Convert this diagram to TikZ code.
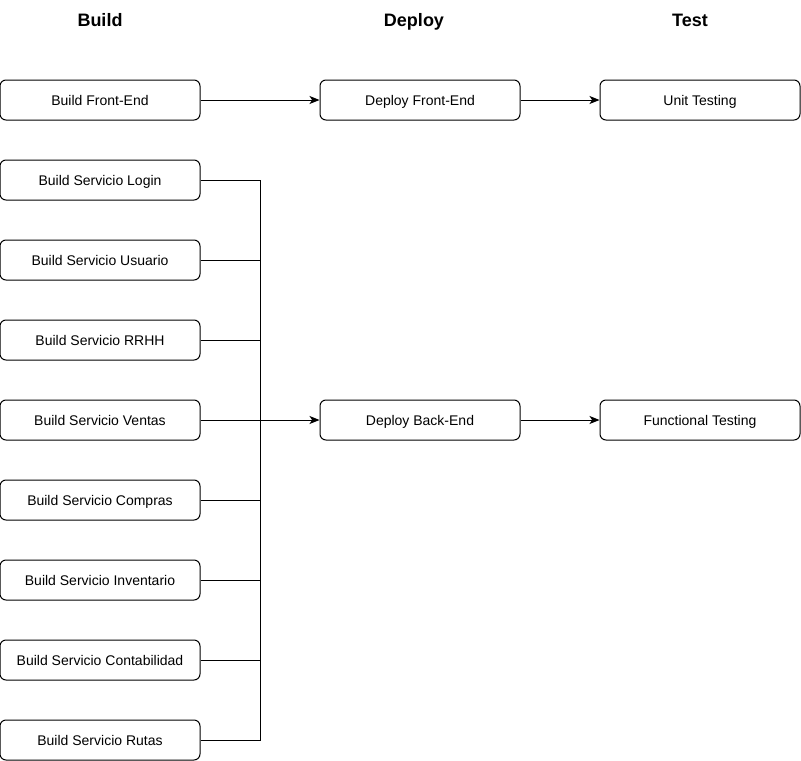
\documentclass[tikz,border=0pt]{standalone}
\usepackage{fontspec}
\setmainfont{Liberation Sans}
\usetikzlibrary{arrows.meta, positioning}
\tikzstyle{arrow} = [-{Stealth[length=7.5pt, width=6pt, inset=2pt]}]
\tikzstyle{stage} = [rectangle, rounded corners=4.5pt, minimum width=150pt, minimum height=30pt, text height=10.4pt, text depth=2.2pt, text centered, draw=black, line width=0.75pt, font=\fontsize{10.5}{12}\selectfont]
\tikzstyle{header} = [text height=12.6pt, text depth=2.9pt, font=\fontsize{13.5}{15}\selectfont\bfseries]

\begin{document}
\begin{tikzpicture}[x=0.75pt, y=-0.75pt, node distance=60pt, line width=0.75pt]
\useasboundingbox (0,0) rectangle (801,761);

% Column headers
\node (hbuild) [header] at (100,20) {Build};
\node (hdeploy) [header] at (414,20) {Deploy};
\node (htest) [header] at (690,20) {Test};

% Build column
\node (bfront) [stage] at (100,100) {Build Front-End};
\node (blogin) [stage, below of=bfront] {Build Servicio Login};
\node (busuario) [stage, below of=blogin] {Build Servicio Usuario};
\node (brrhh) [stage, below of=busuario] {Build Servicio RRHH};
\node (bventas) [stage, below of=brrhh] {Build Servicio Ventas};
\node (bcompras) [stage, below of=bventas] {Build Servicio Compras};
\node (binventario) [stage, below of=bcompras] {Build Servicio Inventario};
\node (bconta) [stage, below of=binventario] {Build Servicio Contabilidad};
\node (brutas) [stage, below of=bconta] {Build Servicio Rutas};

% Deploy column
\node (dfront) [stage] at (420,100) {Deploy Front-End};
\node (dback) [stage] at (420,420) {Deploy Back-End};

% Test column
\node (tunit) [stage] at (700,100) {Unit Testing};
\node (tfunc) [stage] at (700,420) {Functional Testing};

% Back-end bus
\coordinate (bus) at (260,420);

% Arrows
\draw [arrow] (bfront) -- (dfront);
\draw [arrow] (dfront) -- (tunit);
\draw [arrow] (dback) -- (tfunc);
\draw (blogin.east) -| (bus);
\draw (busuario.east) -| (bus);
\draw (brrhh.east) -| (bus);
\draw (bcompras.east) -| (bus);
\draw (binventario.east) -| (bus);
\draw (bconta.east) -| (bus);
\draw (brutas.east) -| (bus);
\draw [arrow] (bventas) -- (dback);

\end{tikzpicture}
\end{document}
